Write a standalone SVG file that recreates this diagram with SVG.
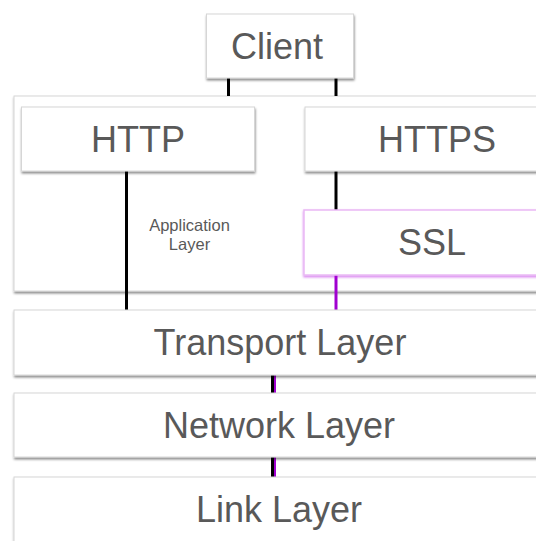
<svg xmlns="http://www.w3.org/2000/svg" width="536" height="541" viewBox="0 0 536 541">
<defs>
<filter id="sh" x="-10%" y="-10%" width="120%" height="130%">
<feDropShadow dx="0.5" dy="2" stdDeviation="1.2" flood-color="#000" flood-opacity="0.45"/>
</filter>
<filter id="shp" x="-10%" y="-10%" width="120%" height="130%">
<feDropShadow dx="0" dy="1.5" stdDeviation="1.2" flood-color="#b000e0" flood-opacity="0.5"/>
</filter>
</defs>
<style>
.box{fill:#fff;stroke:#d6d6d6;stroke-width:1;filter:url(#sh)}
.pbox{fill:#fff;stroke:#eab8f5;stroke-width:1.5;filter:url(#shp)}
.t{font-family:"Liberation Sans",Arial,sans-serif;font-size:36px;fill:#595959;text-anchor:middle}
.s{font-family:"Liberation Sans",Arial,sans-serif;font-size:16.5px;fill:#595959;text-anchor:middle}
.k{stroke:#000;stroke-width:3;fill:none}
.p{stroke:#a000d0;stroke-width:3;fill:none}
</style>
<g id="app-layer">
<rect class="box" x="14" y="96" width="540" height="195"/>
<text class="s" x="189.5" y="231">Application</text>
<text class="s" x="189.5" y="250">Layer</text>
</g>
<g id="connectors">
<line class="k" x1="228.5" y1="78" x2="228.5" y2="96"/>
<line class="k" x1="336" y1="78" x2="336" y2="96"/>
<line class="k" x1="126.5" y1="171" x2="126.5" y2="310"/>
<line class="k" x1="336" y1="171" x2="336" y2="210"/>
<line class="p" x1="336" y1="275" x2="336" y2="310"/>
<line class="p" x1="274.5" y1="375" x2="274.5" y2="393"/>
<line class="k" x1="272.5" y1="375" x2="272.5" y2="393"/>
<line class="p" x1="274.5" y1="457" x2="274.5" y2="477"/>
<line class="k" x1="272.5" y1="457" x2="272.5" y2="477"/>
</g>
<g id="client">
<rect class="box" x="206.5" y="14" width="147" height="64"/>
<text class="t" x="277" y="59">Client</text>
</g>
<g id="http">
<rect class="box" x="21.5" y="107" width="233" height="64"/>
<text class="t" x="138" y="152">HTTP</text>
</g>
<g id="https">
<rect class="box" x="305" y="107" width="264" height="64"/>
<text class="t" x="437" y="152">HTTPS</text>
</g>
<g id="ssl">
<rect class="pbox" x="304" y="210" width="256" height="65"/>
<text class="t" x="432" y="255">SSL</text>
</g>
<g id="transport">
<rect class="box" x="14" y="310" width="532" height="65"/>
<text class="t" x="280" y="355">Transport Layer</text>
</g>
<g id="network">
<rect class="box" x="14" y="393" width="532" height="64"/>
<text class="t" x="279" y="438">Network Layer</text>
</g>
<g id="link">
<rect class="box" x="14" y="477" width="532" height="70"/>
<text class="t" x="279" y="522">Link Layer</text>
</g>
</svg>
